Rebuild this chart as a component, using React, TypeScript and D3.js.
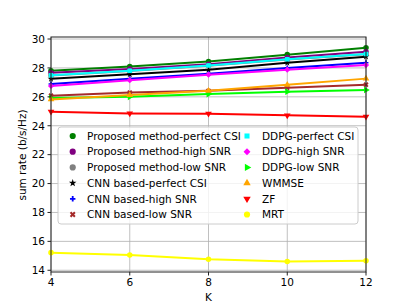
import React from "react";
import * as d3 from "d3";

const kValues = [4, 6, 8, 10, 12];

// sum rate (b/s/Hz) for each method
const propPerfect = [27.8, 28.1, 28.45, 28.92, 29.4];
const propHigh = [27.67, 27.92, 28.25, 28.72, 29.12];
const propLow = [27.48, 27.78, 28.15, 28.58, 28.95];
const cnnPerfect = [27.25, 27.56, 27.87, 28.35, 28.78];
const cnnHigh = [26.89, 27.25, 27.6, 28.0, 28.36];
const cnnLow = [26.08, 26.3, 26.42, 26.63, 26.84];
const ddpgPerfect = [27.49, 27.8, 28.17, 28.6, 28.96];
const ddpgHigh = [26.75, 27.15, 27.53, 27.88, 28.2];
const ddpgLow = [25.92, 26.0, 26.19, 26.36, 26.47];
const wmmse = [25.82, 26.12, 26.42, 26.83, 27.26];
const zf = [24.97, 24.85, 24.83, 24.72, 24.63];
const mrt = [15.22, 15.06, 14.76, 14.6, 14.65];

const xTicks = [4, 6, 8, 10, 12];
const yTicks = [14, 16, 18, 20, 22, 24, 26, 28, 30];

type Series = { name: string; values: number[]; color: string; marker: string };

const series: Series[] = [
  { name: "Proposed method-perfect CSI", values: propPerfect, color: "#008000", marker: "circle" },
  { name: "Proposed method-high SNR", values: propHigh, color: "#800080", marker: "circle" },
  { name: "Proposed method-low SNR", values: propLow, color: "#808080", marker: "circle" },
  { name: "CNN based-perfect CSI", values: cnnPerfect, color: "#000000", marker: "star" },
  { name: "CNN based-high SNR", values: cnnHigh, color: "#0000ff", marker: "plus" },
  { name: "CNN based-low SNR", values: cnnLow, color: "#a52a2a", marker: "x" },
  { name: "DDPG-perfect CSI", values: ddpgPerfect, color: "#00ffff", marker: "square" },
  { name: "DDPG-high SNR", values: ddpgHigh, color: "#ff00ff", marker: "diamond" },
  { name: "DDPG-low SNR", values: ddpgLow, color: "#00ff00", marker: "tright" },
  { name: "WMMSE", values: wmmse, color: "#ffa500", marker: "tup" },
  { name: "ZF", values: zf, color: "#ff0000", marker: "tdown" },
  { name: "MRT", values: mrt, color: "#ffff00", marker: "circle" },
];

const font = "DejaVu Sans, sans-serif";

const Marker = ({ kind, x, y, color, s }: { kind: string; x: number; y: number; color: string; s: number }) => {
  let type: d3.SymbolType = d3.symbolCircle;
  let rot = 0;
  let size = s;
  if (kind === "star") { type = d3.symbolStar; size = s * 0.6; }
  if (kind === "plus") { type = d3.symbolCross; size = s * 0.55; }
  if (kind === "x") { type = d3.symbolCross; rot = 45; size = s * 0.7; }
  if (kind === "square") { type = d3.symbolSquare; size = s * 0.85; }
  if (kind === "diamond") { type = d3.symbolSquare; rot = 45; size = s * 0.8; }
  if (kind === "tup") { type = d3.symbolTriangle; size = s * 0.8; }
  if (kind === "tright") { type = d3.symbolTriangle; rot = 90; size = s * 0.8; }
  if (kind === "tdown") { type = d3.symbolTriangle; rot = 180; size = s * 0.8; }
  const path = d3.symbol().type(type).size(size)() || "";
  return <path d={path} fill={color} transform={`translate(${x},${y}) rotate(${rot})`} />;
};

export default function App() {
  const left = 51, right = 366, top = 37, bottom = 272;
  const x = d3.scaleLinear().domain([4, 12]).range([left, right]);
  const y = d3.scaleLinear().domain([13.88, 30.14]).range([bottom, top]);
  const line = d3.line<number>().x((_, i) => x(kValues[i])).y((d) => y(d));

  const legX = 58, legY = 127, legW = 300, legH = 97;
  const rowH = 15.7;

  return (
    <svg width={407} height={306} style={{ position: "absolute", left: 0, top: 0 }} fontFamily={font}>
      <rect width={407} height={306} fill="#fff" />
      {/* grid */}
      {xTicks.map((t) => (
        <line key={"gx" + t} x1={x(t)} x2={x(t)} y1={top} y2={bottom} stroke="#b0b0b0" strokeWidth={0.8} />
      ))}
      {yTicks.map((t) => (
        <line key={"gy" + t} x1={left} x2={right} y1={y(t)} y2={y(t)} stroke="#b0b0b0" strokeWidth={0.8} />
      ))}
      {/* series */}
      {series.map((s) => (
        <g key={s.name}>
          <path d={line(s.values) || ""} fill="none" stroke={s.color} strokeWidth={2} />
          {s.values.map((v, i) => (
            <Marker key={i} kind={s.marker} x={x(kValues[i])} y={y(v)} color={s.color} s={24} />
          ))}
        </g>
      ))}
      {/* frame */}
      <rect x={left} y={top} width={right - left} height={bottom - top} fill="none" stroke="#222" strokeWidth={1} />
      {/* ticks */}
      {xTicks.map((t) => (
        <g key={"xt" + t}>
          <line x1={x(t)} x2={x(t)} y1={bottom} y2={bottom + 3.5} stroke="#222" />
          <text x={x(t)} y={279} dy="0.71em" textAnchor="middle" fontSize={10.5}>{t}</text>
        </g>
      ))}
      {yTicks.map((t) => (
        <g key={"yt" + t}>
          <line x1={left - 3.5} x2={left} y1={y(t)} y2={y(t)} stroke="#222" />
          <text x={45} y={y(t)} dy="0.36em" textAnchor="end" fontSize={10.5}>{t}</text>
        </g>
      ))}
      <text x={208.5} y={301} textAnchor="middle" fontSize={10.5}>K</text>
      <text transform="translate(26,155) rotate(-90)" textAnchor="middle" fontSize={10.5}>sum rate (b/s/Hz)</text>
      {/* legend */}
      <rect x={legX} y={legY} width={legW} height={legH} rx={3} fill="#fff" fillOpacity={0.8} stroke="#cccccc" strokeWidth={1} />
      {series.map((s, i) => {
        const col = Math.floor(i / 6);
        const row = i % 6;
        const cy = 136 + row * rowH;
        const mx = col === 0 ? 72.7 : 247;
        const tx = col === 0 ? 87 : 262;
        return (
          <g key={"lg" + s.name}>
            <Marker kind={s.marker} x={mx} y={cy} color={s.color} s={30} />
            <text x={tx} y={cy} dy="0.36em" fontSize={10.5}>{s.name}</text>
          </g>
        );
      })}
    </svg>
  );
}
